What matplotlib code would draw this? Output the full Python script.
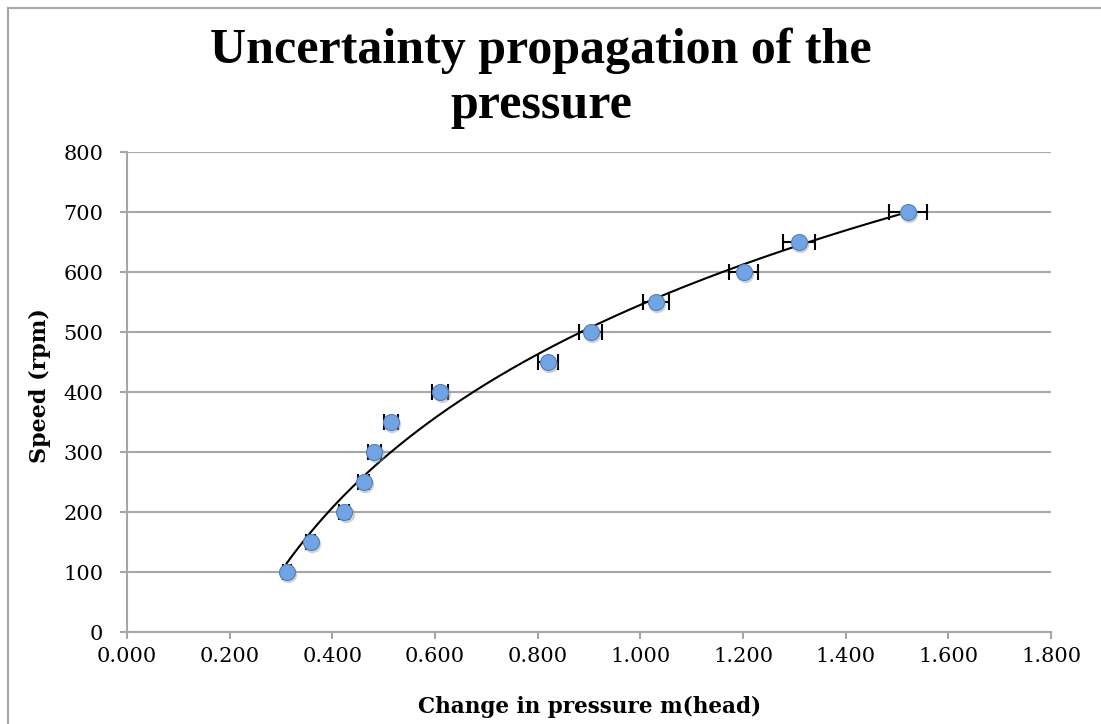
import numpy as np
import matplotlib.pyplot as plt
from matplotlib.lines import Line2D

# --- data ---
dp = [0.311, 0.358, 0.423, 0.461, 0.482, 0.514, 0.610, 0.820, 0.903, 1.030, 1.201, 1.309, 1.521]
speed = [100, 150, 200, 250, 300, 350, 400, 450, 500, 550, 600, 650, 700]
dp_err = [0.008, 0.009, 0.010, 0.011, 0.012, 0.013, 0.015, 0.020, 0.022, 0.025, 0.029, 0.031, 0.037]

x_ticks = [0.0, 0.2, 0.4, 0.6, 0.8, 1.0, 1.2, 1.4, 1.6, 1.8]
y_ticks = [0, 100, 200, 300, 400, 500, 600, 700, 800]

serif = ['DejaVu Serif']
title_font = ['Liberation Serif', 'DejaVu Serif']
grey = '#a6a6a6'
W, H = 1101, 724

fig = plt.figure(figsize=(W / 100, H / 100), dpi=100)
ax = fig.add_axes([127 / W, 1 - 632 / H, 924 / W, 480 / H])

# chart frame: only the top and left edges are inside the screenshot
fig.lines.append(Line2D([8 / W, 1], [1 - 8 / H, 1 - 8 / H], transform=fig.transFigure,
                        color=grey, lw=1.5))
fig.lines.append(Line2D([8 / W, 8 / W], [0, 1 - 8 / H], transform=fig.transFigure,
                        color=grey, lw=1.5))

# logarithmic trendline, fitted like Excel does
a, b = np.polyfit(np.log(dp), speed, 1)
xs = np.linspace(min(dp), max(dp), 200)
ax.plot(xs, a * np.log(xs) + b, color='black', lw=1.5, zorder=3)

ax.errorbar(dp, speed, xerr=dp_err, fmt='none', ecolor='black', elinewidth=1.5,
            capsize=6, capthick=1.5, zorder=4)
# soft shadow under the markers
ax.plot(np.array(dp) + 0.003, np.array(speed) - 3, 'o', ms=12.5, color='#9a9a9a', alpha=0.45,
        mec='none', zorder=4)
ax.plot(dp, speed, 'o', ms=11.5, mfc='#70a4e4', mec='#4f81bd', mew=0.8, zorder=5)

ax.set_xlim(0, 1.8)
ax.set_ylim(0, 800)
ax.set_xticks(x_ticks)
ax.set_xticklabels([f'{v:.3f}' for v in x_ticks])
ax.set_yticks(y_ticks)
ax.grid(axis='y', color=grey, lw=1.5)
ax.set_axisbelow(True)

for s in ['top', 'right']:
    ax.spines[s].set_visible(False)
for s in ['left', 'bottom']:
    ax.spines[s].set_color(grey)
    ax.spines[s].set_linewidth(1.5)
ax.tick_params(colors=grey, width=1.5, length=5, labelcolor='black', labelsize=15)
ax.tick_params(axis='y', pad=12)
ax.tick_params(axis='x', pad=6)
for lab in ax.get_xticklabels() + ax.get_yticklabels():
    lab.set_family(serif)

fig.text(590 / W, 1 - 707 / H, 'Change in pressure m(head)', ha='center', va='center',
         family=serif, fontsize=15.5, fontweight='bold')
fig.text(40 / W, 1 - 386 / H, 'Speed (rpm)', ha='center', va='center', rotation=90,
         family=serif, fontsize=16, fontweight='bold')

fig.text(541 / W, 1 - 63 / H, 'Uncertainty propagation of the', ha='center', va='baseline',
         family=title_font, fontsize=36, fontweight='bold')
fig.text(541 / W, 1 - 118 / H, 'pressure', ha='center', va='baseline',
         family=title_font, fontsize=36, fontweight='bold')

fig.savefig('out.png', dpi=100)
